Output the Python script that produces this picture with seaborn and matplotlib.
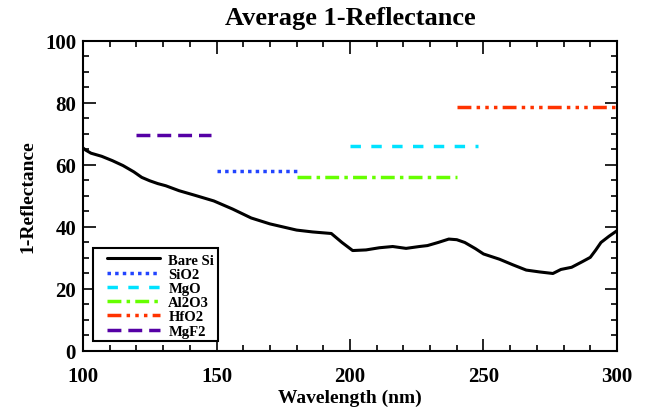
import numpy as np
import pandas as pd
import matplotlib
matplotlib.use("Agg")
import matplotlib.pyplot as plt
import seaborn as sns
from matplotlib.ticker import MultipleLocator
from matplotlib.patches import Rectangle

# Bare Si curve
si_wl = [100, 101, 103, 107, 111, 115, 119, 122, 125, 128, 131, 136, 142, 149, 156, 163, 170, 175, 180, 186, 193, 197, 201, 206, 211, 216, 221, 226, 229, 233, 237, 240, 243, 247, 250, 256, 261, 266, 271, 276, 279, 283, 287, 290, 292, 294, 297, 300]
si_val = [65.5, 64.8, 63.8, 62.8, 61.4, 59.8, 57.8, 56.0, 54.9, 54.0, 53.3, 51.7, 50.2, 48.4, 45.8, 42.9, 41.0, 40.0, 39.0, 38.4, 37.9, 35.0, 32.4, 32.6, 33.3, 33.7, 33.1, 33.7, 34.0, 35.0, 36.1, 35.9, 35.0, 33.0, 31.3, 29.6, 27.8, 26.1, 25.5, 25.0, 26.3, 27.0, 28.8, 30.2, 32.5, 35.0, 37.0, 38.8]

coat_names = ["SiO2", "MgO", "Al2O3", "HfO2", "MgF2"]
coat_start = [150, 200, 180, 240, 120]
coat_end = [180, 248, 240, 300, 148]
coat_val = [58.0, 66.0, 56.0, 78.7, 69.7]
coat_colors = ["#2244ff", "#00e2ff", "#66ff00", "#ff3300", "#5500a5"]
coat_styles = [(0, (1, 1.2)), (0, (3, 3)), (0, (4, 1.5, 1, 1.5)), (0, (4, 1.5, 1, 1.5, 1, 1.5, 1, 1.5)), (0, (4, 2))]

x_ticks = [100, 150, 200, 250, 300]
y_ticks = [0, 20, 40, 60, 80, 100]

sns.set_theme(style="white")
plt.rcParams['font.family'] = ['Liberation Serif', 'DejaVu Serif']
plt.rcParams['font.weight'] = 'bold'
plt.rcParams['text.color'] = 'black'
plt.rcParams['axes.labelcolor'] = 'black'
plt.rcParams['xtick.color'] = 'black'
plt.rcParams['ytick.color'] = 'black'

fig = plt.figure(figsize=(6.47, 4.10), dpi=100)
ax = fig.add_axes([0.1283, 0.1415, 0.8253, 0.7561])

df_si = pd.DataFrame({"wl": si_wl, "val": si_val})
sns.lineplot(data=df_si, x="wl", y="val", ax=ax, color="black", linewidth=2.2, label="Bare Si", sort=False)

for name, s, e, v, c, ls in zip(coat_names, coat_start, coat_end, coat_val, coat_colors, coat_styles):
    d = pd.DataFrame({"wl": [s, e], "val": [v, v]})
    sns.lineplot(data=d, x="wl", y="val", ax=ax, color=c, linewidth=2.5, linestyle=ls, label=name)

ax.set_xlim(100, 300)
ax.set_ylim(0, 100)
ax.set_xticks(x_ticks)
ax.set_yticks(y_ticks)
ax.xaxis.set_minor_locator(MultipleLocator(10))
ax.yaxis.set_minor_locator(MultipleLocator(5))
ax.tick_params(which="both", direction="in", top=True, right=True, bottom=True, left=True, color="black", width=1.2)
ax.tick_params(which="major", length=9, labelsize=15)
ax.tick_params(axis="x", which="major", pad=11)
ax.tick_params(axis="y", which="major", pad=5)
ax.tick_params(which="minor", length=4.5)
for lab in ax.get_xticklabels() + ax.get_yticklabels():
    lab.set_fontweight("bold")
for sp in ax.spines.values():
    sp.set_color("black")
    sp.set_linewidth(1.5)

ax.set_title("Average 1-Reflectance", fontsize=19, fontweight="bold", pad=12, color="black")
ax.set_xlabel("Wavelength (nm)", fontsize=14, fontweight="bold", labelpad=2)
ax.set_ylabel("1-Reflectance", fontsize=14, fontweight="bold", labelpad=6)

# legend frame (IDL style box with wide left margin)
ax.add_patch(Rectangle((0.0187, 0.032), 0.234, 0.300, transform=ax.transAxes,
                       facecolor="white", edgecolor="black", linewidth=1.5, zorder=4))
leg = ax.legend(loc="upper left", bbox_to_anchor=(0.045, 0.315), borderaxespad=0, handlelength=3.6,
                labelspacing=0.07, borderpad=0, frameon=False, handletextpad=0.6,
                prop={"weight": "bold", "size": 10.5})
leg.set_zorder(5)

fig.savefig("out.png", dpi=100)
